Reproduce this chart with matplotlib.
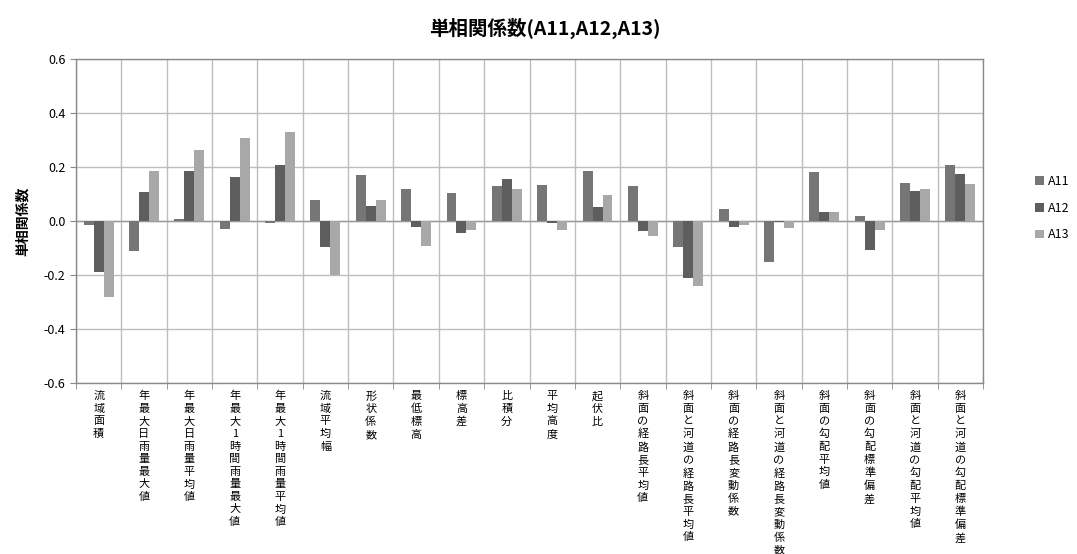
import matplotlib
matplotlib.use("Agg")
import matplotlib.pyplot as plt
import numpy as np

plt.rcParams["font.family"] = ["Noto Sans CJK JP", "DejaVu Sans"]

categories = [
    "流域面積", "年最大日雨量最大値", "年最大日雨量平均値", "年最大1時間雨量最大値",
    "年最大1時間雨量平均値", "流域平均幅", "形状係数", "最低標高", "標高差", "比積分",
    "平均高度", "起伏比", "斜面の経路長平均値", "斜面と河道の経路長平均値",
    "斜面の経路長変動係数", "斜面と河道の経路長変動係数", "斜面の勾配平均値",
    "斜面の勾配標準偏差", "斜面と河道の勾配平均値", "斜面と河道の勾配標準偏差",
]
a11 = [-0.016, -0.110, 0.009, -0.030, -0.007, 0.078, 0.169, 0.120, 0.104, 0.131,
       0.133, 0.185, 0.131, -0.096, 0.046, -0.151, 0.180, 0.019, 0.141, 0.209]
a12 = [-0.190, 0.106, 0.185, 0.164, 0.206, -0.096, 0.056, -0.022, -0.046, 0.154,
       -0.006, 0.051, -0.037, -0.210, -0.023, -0.005, 0.033, -0.106, 0.110, 0.173]
a13 = [-0.283, 0.185, 0.263, 0.307, 0.332, -0.201, 0.078, -0.094, -0.033, 0.119,
       -0.033, 0.095, -0.056, -0.242, -0.015, -0.025, 0.033, -0.033, 0.117, 0.137]
series = [("A11", a11, "#767676"), ("A12", a12, "#5e5e5e"), ("A13", a13, "#a8a8a8")]

fig = plt.figure(figsize=(10.77, 5.54), dpi=100)
ax = fig.add_axes([0.0706, 0.3092, 0.8421, 0.5838])

x = np.arange(len(categories))
w = 0.22
for i, (name, vals, col) in enumerate(series):
    ax.bar(x + (i - 1) * w, vals, width=w, color=col, label=name, zorder=3)

ax.set_xlim(-0.5, len(categories) - 0.5)
ax.set_ylim(-0.6, 0.6)
ax.set_yticks(np.arange(-0.6, 0.61, 0.2))
ax.set_yticklabels([f"{v:.1f}" for v in np.arange(-0.6, 0.61, 0.2)], fontsize=9)

# vertical (stacked) category labels
ax.set_xticks(x)
ax.set_xticklabels(["\n".join(c) for c in categories], fontsize=8,
                   va="top", linespacing=1.32)
ax.set_xticks(np.arange(-0.5, len(categories), 1), minor=True)
ax.tick_params(axis="x", which="major", length=0, pad=6)
ax.tick_params(axis="x", which="minor", length=4, color="#888888")
ax.tick_params(axis="y", length=4, color="#888888")

ax.grid(True, axis="y", color="#bdbdbd", linewidth=1.0, zorder=0)
ax.grid(True, axis="x", which="minor", color="#bdbdbd", linewidth=1.0, zorder=0)
ax.axhline(0, color="#9a9a9a", linewidth=1.0, zorder=2)
for s in ax.spines.values():
    s.set_color("#8a8a8a")
    s.set_linewidth(1.0)

ax.set_ylabel("単相関係数", fontsize=10, fontweight="bold", labelpad=10)
fig.text(0.506, 0.948, "単相関係数(A11,A12,A13)", ha="center", va="center",
         fontsize=14, fontweight="bold")

ax.legend(loc="center left", bbox_to_anchor=(1.045, 0.54), frameon=False,
          fontsize=9, handlelength=0.7, handleheight=0.7, labelspacing=1.1,
          handletextpad=0.3)

fig.savefig("out.png", dpi=100)
